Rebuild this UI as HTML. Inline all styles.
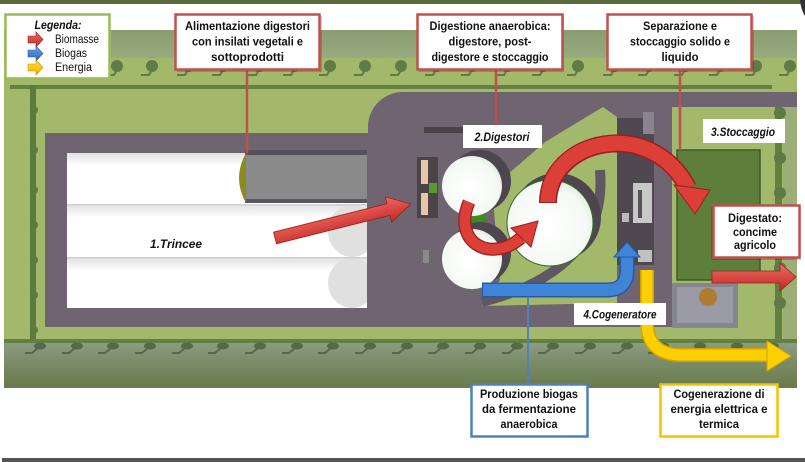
<!DOCTYPE html>
<html><head><meta charset="utf-8">
<style>
html,body{margin:0;padding:0;background:#fff;}
svg{display:block;}
text{font-family:"Liberation Sans",sans-serif;fill:#111;}
.cb{font-weight:bold;font-size:12px;}
.lb{font-weight:bold;font-style:italic;font-size:12px;}
</style></head><body>
<svg width="805" height="462" viewBox="0 0 805 462" xmlns="http://www.w3.org/2000/svg">
<defs>
 <linearGradient id="rg" x1="0" y1="0" x2="0" y2="1"><stop offset="0" stop-color="#f06a62"/><stop offset="1" stop-color="#c22a26"/></linearGradient>
 <linearGradient id="bgr" x1="0" y1="0" x2="0" y2="1"><stop offset="0" stop-color="#6aa6ea"/><stop offset="1" stop-color="#2a62b4"/></linearGradient>
 <linearGradient id="yg" x1="0" y1="0" x2="0" y2="1"><stop offset="0" stop-color="#ffe040"/><stop offset="1" stop-color="#f0b000"/></linearGradient>
 <linearGradient id="strip" x1="0" y1="0" x2="0" y2="1"><stop offset="0" stop-color="#e2e2e2"/><stop offset="0.25" stop-color="#fff"/><stop offset="1" stop-color="#fff"/></linearGradient>
 <radialGradient id="cw" cx="0.45" cy="0.55" r="0.6"><stop offset="0" stop-color="#fff"/><stop offset="0.8" stop-color="#f5f9f5"/><stop offset="1" stop-color="#dde8dd"/></radialGradient>
 <linearGradient id="botband" x1="0" y1="0" x2="0" y2="1"><stop offset="0" stop-color="#8c9c82"/><stop offset="0.4" stop-color="#7b8d68"/><stop offset="1" stop-color="#6a7a4e"/></linearGradient>
 <linearGradient id="topband" x1="0" y1="0" x2="0" y2="1"><stop offset="0" stop-color="#8a9d72"/><stop offset="1" stop-color="#98ab7e"/></linearGradient>
 <g id="tree"><circle cx="0" cy="0" r="6" fill="#617b47"/><path d="M-11 9 H-3 L0 4" stroke="#617b47" stroke-width="2" fill="none"/></g>
 <g id="btree"><ellipse cx="0" cy="0" rx="6" ry="3.5" fill="#56694a"/><path d="M-15 7 H-8 L-2 2" stroke="#56694a" stroke-width="2" fill="none"/></g>
</defs>

<!-- top strip -->
<rect x="0" y="0" width="805" height="4" fill="#5b6b3e"/>
<path d="M800 0 H805 V16 Q801 10 800 0 Z" fill="#333"/>

<!-- map base -->
<rect x="4" y="30" width="793" height="358" fill="#a2b86b"/>
<rect x="4" y="30" width="793" height="28" fill="url(#topband)"/>
<!-- top trees -->
<use href="#tree" x="117" y="66"/><use href="#tree" x="152" y="66"/><use href="#tree" x="188" y="66"/><use href="#tree" x="223" y="66"/><use href="#tree" x="259" y="66"/><use href="#tree" x="294" y="66"/><use href="#tree" x="330" y="66"/><use href="#tree" x="365" y="66"/><use href="#tree" x="401" y="66"/><use href="#tree" x="436" y="66"/><use href="#tree" x="472" y="66"/><use href="#tree" x="507" y="66"/><use href="#tree" x="543" y="66"/><use href="#tree" x="578" y="66"/><use href="#tree" x="614" y="66"/><use href="#tree" x="649" y="66"/><use href="#tree" x="685" y="66"/><use href="#tree" x="720" y="66"/><use href="#tree" x="756" y="66"/><use href="#tree" x="790" y="66"/>
<!-- hedges -->
<rect x="10" y="85" width="762" height="4" fill="#64813f"/>
<rect x="30" y="85" width="6" height="258" fill="#5d7b3c"/>
<g fill="#5d7b3c"><circle cx="34" cy="110" r="4"/><circle cx="34" cy="150" r="4"/><circle cx="34" cy="190" r="4"/><circle cx="34" cy="225" r="4"/><circle cx="34" cy="260" r="4"/><circle cx="34" cy="295" r="4"/><circle cx="34" cy="330" r="4"/></g>

<!-- road -->
<path d="M45 133 H368 V127 A35 35 0 0 1 403 92 H797 V107 H672 V327 H45 Z" fill="#6e6570"/>
<!-- right hedge -->
<rect x="775" y="107" width="7" height="236" fill="#62803f"/>
<rect x="783" y="107" width="14" height="236" fill="#9cae78"/>
<g fill="#5d7a42"><circle cx="780" cy="113" r="6"/><circle cx="780" cy="158" r="6"/><circle cx="780" cy="193" r="6"/><circle cx="780" cy="232" r="6"/><circle cx="780" cy="268" r="6"/><circle cx="780" cy="303" r="6"/></g>

<!-- bottom -->
<rect x="4" y="339" width="793" height="4" fill="#62803f"/>
<rect x="4" y="343" width="793" height="45" fill="url(#botband)"/>
<use href="#btree" x="40" y="346"/><use href="#btree" x="77" y="346"/><use href="#btree" x="113" y="346"/><use href="#btree" x="150" y="346"/><use href="#btree" x="187" y="346"/><use href="#btree" x="223" y="346"/><use href="#btree" x="260" y="346"/><use href="#btree" x="297" y="346"/><use href="#btree" x="333" y="346"/><use href="#btree" x="370" y="346"/><use href="#btree" x="407" y="346"/><use href="#btree" x="443" y="346"/><use href="#btree" x="480" y="346"/><use href="#btree" x="517" y="346"/><use href="#btree" x="553" y="346"/><use href="#btree" x="590" y="346"/><use href="#btree" x="627" y="346"/><use href="#btree" x="663" y="346"/><use href="#btree" x="700" y="346"/><use href="#btree" x="737" y="346"/><use href="#btree" x="773" y="346"/>

<!-- trincee -->
<rect x="67" y="153" width="300" height="155" fill="#fff"/>
<rect x="67" y="153" width="178" height="51" fill="url(#strip)"/>
<rect x="67" y="205" width="300" height="52" fill="url(#strip)"/>
<rect x="67" y="258" width="300" height="50" fill="url(#strip)"/>
<ellipse cx="352" cy="231" rx="24" ry="26" fill="#e0e0e0"/>
<ellipse cx="352" cy="283" rx="24" ry="25" fill="#e0e0e0"/>
<rect x="367" y="200" width="10" height="110" fill="#6e6570"/>
<rect x="245" y="153" width="122" height="50" fill="#8a8a8a"/>
<rect x="245" y="150" width="122" height="5" fill="#55505a"/>
<rect x="245" y="199" width="122" height="4" fill="#5a565e"/>
<path d="M246 153 Q232 178 246 203 Z" fill="#8b8b1e"/>
<rect x="67" y="204" width="300" height="1.5" fill="#d0d0d0"/>
<rect x="67" y="257" width="300" height="1.5" fill="#d0d0d0"/>
<text class="lb" x="176" y="248" text-anchor="middle" textLength="52" lengthAdjust="spacingAndGlyphs">1.Trincee</text>

<!-- digester area -->
<rect x="424" y="127" width="39" height="6" fill="#4a4448"/>
<path d="M492 188 L545 142 L603 107 L617 117 L617 303 L482 306 L500 280 Z" fill="#a2b86b"/>
<path d="M600 170 C606 240 560 282 482 302" stroke="#5f5862" stroke-width="10" fill="none"/>
<rect x="417" y="157" width="21" height="61" fill="#4a4448"/>
<rect x="421" y="160" width="7" height="24" fill="#e8c4a8"/>
<rect x="421" y="193" width="7" height="22" fill="#e8c4a8"/>
<rect x="429" y="183" width="8" height="10" fill="#5a9a2a"/>
<rect x="423" y="250" width="6" height="13" fill="#8a8a8a"/>
<rect x="466" y="212" width="20" height="18" fill="#3f8a20"/>
<circle cx="480" cy="181" r="31" fill="#4d4650"/>
<circle cx="480" cy="253" r="31" fill="#4d4650"/>
<circle cx="557" cy="217" r="44" fill="#4d4650"/>
<circle cx="472" cy="186" r="30" fill="url(#cw)"/>
<circle cx="472" cy="259" r="30" fill="url(#cw)"/>
<circle cx="550" cy="223" r="43" fill="url(#cw)" stroke="#3a6a2a" stroke-width="1"/>

<!-- building column -->
<rect x="617" y="118" width="37" height="147" fill="#4f4850"/>
<rect x="643" y="112" width="11" height="22" fill="#8a8490"/>
<rect x="633" y="183" width="19" height="40" fill="#c8c8c8"/>
<rect x="638" y="190" width="4" height="28" fill="#555"/>
<rect x="622" y="213" width="7" height="9" fill="#bbb"/>
<rect x="638" y="250" width="14" height="12" fill="#c0c0c0"/>

<!-- stoccaggio -->
<rect x="677" y="150" width="83" height="130" fill="#5e7f3c" stroke="#3e5a28" stroke-width="1.5"/>
<rect x="672" y="283" width="66" height="45" fill="#858590"/>
<rect x="677" y="287" width="56" height="36" fill="#9a9aa4"/>
<circle cx="708" cy="297" r="9" fill="#b07a30"/>

<!-- arrows: red straight -->
<g transform="translate(275,238) rotate(-14.1)">
 <polygon points="0,-6 117,-6 117,-13 140,0 117,13 117,6 0,6" fill="url(#rg)" stroke="#9a2020" stroke-width="0.8"/>
</g>
<!-- red big curve -->
<path d="M548 203 C548 140 650 115 688 188" stroke="#9a2020" stroke-width="18" fill="none"/>
<path d="M548 202 C548 140 650 115 688 188" stroke="#dc3f38" stroke-width="15" fill="none"/>
<polygon points="674,185 710,190 695,214" fill="#dc3f38" stroke="#9a2020" stroke-width="1"/>
<!-- red small curve -->
<path d="M469 202 C452 242 490 264 521 238" stroke="#9a2020" stroke-width="13" fill="none"/>
<path d="M469 202 C452 242 490 264 521 238" stroke="#dc3f38" stroke-width="10.5" fill="none"/>
<polygon points="511,228 531,247 538,221" fill="#dc3f38" stroke="#9a2020" stroke-width="1"/>
<!-- blue -->
<path d="M482 290 L607 290 Q627 290 627 270 L627 256" stroke="#2a5aa0" stroke-width="15" fill="none"/>
<path d="M483 290 L607 290 Q627 290 627 270 L627 256" stroke="#3f84d6" stroke-width="12" fill="none"/>
<polygon points="614,257 640,257 627,242" fill="#3f84d6" stroke="#2a5aa0" stroke-width="1"/>
<line x1="528" y1="297" x2="528" y2="384" stroke="#4f81bd" stroke-width="2"/>
<!-- yellow -->
<path d="M647 270 L647 322 Q647 355 682 355 L769 355" stroke="#d8a000" stroke-width="14" fill="none"/>
<path d="M647 270 L647 322 Q647 355 682 355 L769 355" stroke="#fcd000" stroke-width="11" fill="none"/>
<polygon points="767,341 767,371 791,356" fill="#fcd000" stroke="#d8a000" stroke-width="1"/>
<!-- red right -->
<polygon points="712,271 780,271 780,263 796,277 780,291 780,283 712,283" fill="url(#rg)" stroke="#9a2020" stroke-width="0.8"/>

<!-- connectors -->
<line x1="247" y1="70" x2="247" y2="153" stroke="#c0504d" stroke-width="2.5"/>
<line x1="496" y1="70" x2="496" y2="125" stroke="#c0504d" stroke-width="2.5"/>
<line x1="680" y1="70" x2="680" y2="150" stroke="#c0504d" stroke-width="2.5"/>

<!-- labels -->
<rect x="463" y="125" width="79" height="23" fill="#fff"/>
<text class="lb" x="502" y="141" text-anchor="middle" textLength="55" lengthAdjust="spacingAndGlyphs">2.Digestori</text>
<rect x="703" y="119" width="82" height="24" fill="#fff"/>
<text class="lb" x="743" y="136" text-anchor="middle" textLength="64" lengthAdjust="spacingAndGlyphs">3.Stoccaggio</text>
<rect x="574" y="303" width="92" height="22" fill="#fff"/>
<text class="lb" x="620" y="318.5" text-anchor="middle" textLength="73" lengthAdjust="spacingAndGlyphs">4.Cogeneratore</text>

<!-- legend -->
<rect x="5.5" y="14.5" width="104" height="64" fill="#fff" stroke="#9bbb59" stroke-width="2.5"/>
<text x="58" y="29" text-anchor="middle" font-size="11.5" font-style="italic" font-weight="bold" textLength="47" lengthAdjust="spacingAndGlyphs">Legenda:</text>
<polygon points="28,36 36,36 36,32 43,39.5 36,47 36,43 28,43" fill="url(#rg)" stroke="#9a2020" stroke-width="0.6"/>
<polygon points="28,50 36,50 36,46 43,53.5 36,61 36,57 28,57" fill="url(#bgr)" stroke="#2a5aa0" stroke-width="0.6"/>
<polygon points="28,64 36,64 36,60 43,67.5 36,75 36,71 28,71" fill="url(#yg)" stroke="#c89000" stroke-width="0.6"/>
<text x="55" y="43" font-size="11.5" textLength="44" lengthAdjust="spacingAndGlyphs">Biomasse</text>
<text x="55" y="57" font-size="11.5" textLength="32" lengthAdjust="spacingAndGlyphs">Biogas</text>
<text x="55" y="71" font-size="11.5" textLength="37" lengthAdjust="spacingAndGlyphs">Energia</text>

<!-- callouts -->
<rect x="177" y="16" width="145" height="56" fill="rgba(0,0,0,0.18)"/>
<rect x="175.5" y="14.5" width="144" height="55" fill="#fff" stroke="#c0504d" stroke-width="2.5"/>
<text class="cb" x="247.5" y="30" text-anchor="middle" textLength="125" lengthAdjust="spacingAndGlyphs">Alimentazione digestori</text>
<text class="cb" x="247.5" y="45.5" text-anchor="middle" textLength="111" lengthAdjust="spacingAndGlyphs">con insilati vegetali e</text>
<text class="cb" x="247.5" y="61" text-anchor="middle" textLength="73" lengthAdjust="spacingAndGlyphs">sottoprodotti</text>

<rect x="419" y="16" width="145" height="56" fill="rgba(0,0,0,0.18)"/>
<rect x="417.5" y="14.5" width="145" height="55" fill="#fff" stroke="#c0504d" stroke-width="2.5"/>
<text class="cb" x="490" y="30" text-anchor="middle" textLength="121" lengthAdjust="spacingAndGlyphs">Digestione anaerobica:</text>
<text class="cb" x="490" y="45.5" text-anchor="middle" textLength="83" lengthAdjust="spacingAndGlyphs">digestore, post-</text>
<text class="cb" x="490" y="61" text-anchor="middle" textLength="117" lengthAdjust="spacingAndGlyphs">digestore e stoccaggio</text>

<rect x="609" y="16" width="145" height="56" fill="rgba(0,0,0,0.18)"/>
<rect x="607.5" y="14.5" width="144" height="55" fill="#fff" stroke="#c0504d" stroke-width="2.5"/>
<text class="cb" x="680" y="30" text-anchor="middle" textLength="74" lengthAdjust="spacingAndGlyphs">Separazione e</text>
<text class="cb" x="680" y="45.5" text-anchor="middle" textLength="100" lengthAdjust="spacingAndGlyphs">stoccaggio solido e</text>
<text class="cb" x="680" y="61" text-anchor="middle" textLength="37" lengthAdjust="spacingAndGlyphs">liquido</text>

<rect x="711" y="207" width="90" height="53" fill="rgba(0,0,0,0.18)"/>
<rect x="713.5" y="205.5" width="86" height="52" fill="#fff" stroke="#c0504d" stroke-width="2.5"/>
<text class="cb" x="755" y="222" text-anchor="middle" textLength="54" lengthAdjust="spacingAndGlyphs">Digestato:</text>
<text class="cb" x="755" y="236" text-anchor="middle" textLength="44" lengthAdjust="spacingAndGlyphs">concime</text>
<text class="cb" x="755" y="249" text-anchor="middle" textLength="42" lengthAdjust="spacingAndGlyphs">agricolo</text>

<rect x="471.5" y="384.5" width="116" height="52" fill="#fff" stroke="#4f81bd" stroke-width="2.5"/>
<text class="cb" x="529" y="398" text-anchor="middle" textLength="98" lengthAdjust="spacingAndGlyphs">Produzione biogas</text>
<text class="cb" x="529" y="413" text-anchor="middle" textLength="94" lengthAdjust="spacingAndGlyphs">da fermentazione</text>
<text class="cb" x="529" y="428" text-anchor="middle" textLength="57" lengthAdjust="spacingAndGlyphs">anaerobica</text>

<rect x="660.5" y="384.5" width="117" height="52" fill="#fff" stroke="#f5c400" stroke-width="2.5"/>
<text class="cb" x="719" y="398" text-anchor="middle" textLength="91" lengthAdjust="spacingAndGlyphs">Cogenerazione di</text>
<text class="cb" x="719" y="413" text-anchor="middle" textLength="97" lengthAdjust="spacingAndGlyphs">energia elettrica e</text>
<text class="cb" x="719" y="428" text-anchor="middle" textLength="40" lengthAdjust="spacingAndGlyphs">termica</text>

<!-- bottom bar -->
<rect x="2" y="458" width="803" height="4" fill="#555"/>
</svg>
</body></html>
